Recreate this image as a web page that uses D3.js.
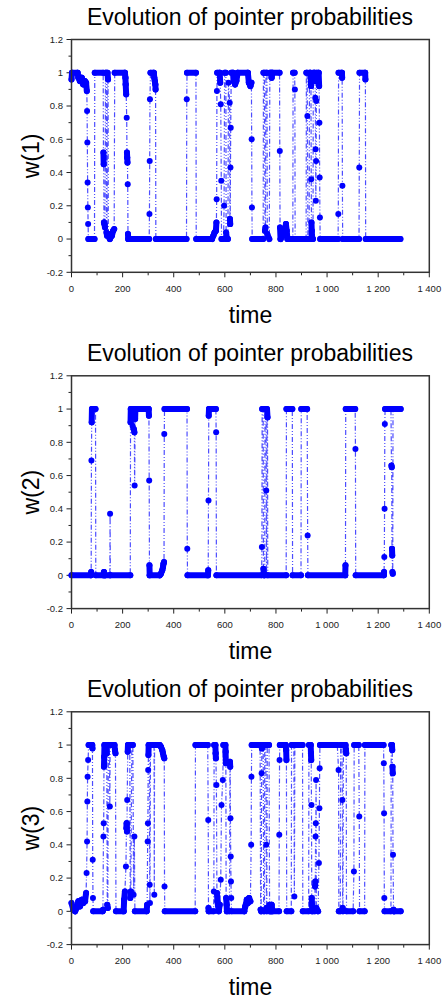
<!DOCTYPE html>
<html>
<head>
<meta charset="utf-8">
<style>
body { margin: 0; background: #fff; }
text { font-family: "Liberation Sans", Arial, sans-serif; }
.tick-label { font-size: 9.5px; fill: #222; }
.title, .xlabel, .ylabel { font-size: 23px; fill: #000; }
.frame { fill: none; stroke: #333; stroke-width: 1.5px; }
.tick { stroke: #222; stroke-width: 1px; }
.link { fill: none; stroke: #2020ff; stroke-opacity: 0.8; stroke-width: 1.2px; stroke-dasharray: 5,2,1,2,1,2; }
.run { stroke: #0000ff; stroke-width: 6px; stroke-linecap: round; }
.dot { fill: #0000ff; }
</style>
</head>
<body>
<svg width="442" height="1001"></svg>
<script src="https://d3js.org/d3.v7.min.js"></script>
<script>
// time, w
var w1 = [[0,0.96],[2,1],[24,1],[27,0.97],[33,0.95],[40,0.97],[46,0.93],[52,0.95],[57,0.94],[60,0.89],[61,0.77],[62,0.58],[63,0.34],[64,0.19],[65,0.09],[66,0],[90,0],[91,1],[124,1],[125,0.52],[126,0.45],[127,0.1],[129,0.09],[131,0.07],[133,1],[136,1],[137,0.04],[139,0.02],[141,1],[143,0.96],[144,0.03],[150,0],[158,0.02],[163,0.05],[167,0.06],[169,1],[209,1],[211,0.97],[212,0.93],[214,0.87],[216,0.73],[217,0.52],[218,0.49],[219,0.46],[220,0.33],[221,0.03],[222,0],[304,0],[305,0.15],[306,0.47],[307,0.84],[309,1],[322,1],[324,0.97],[326,0.95],[328,0.93],[329,0.9],[330,0],[450,0],[451,0.84],[452,1],[487,1],[488,0],[550,0],[555,0.02],[560,0.04],[565,0.05],[567,0.1],[568,0.24],[569,0.89],[570,1],[580,1],[582,0.94],[584,0.81],[586,0.35],[587,0],[595,0],[597,0.2],[599,1],[604,1],[605,0.04],[608,0],[612,0],[614,0.94],[619,0.82],[620,0.12],[621,0.09],[622,0.43],[623,0.67],[625,1],[632,1],[635,0.95],[640,0.93],[645,0.95],[650,1],[690,1],[694,0.94],[700,0.92],[704,0.94],[705,0.6],[706,0.19],[707,0],[750,0],[751,1],[755,1],[757,0.05],[759,0.07],[761,1],[765,1],[766,0.03],[774,0],[776,1],[781,1],[783,0.97],[786,1],[814,1],[815,0.53],[816,0.07],[818,0],[835,0.04],[839,0.09],[842,0.05],[845,0],[866,0],[867,1],[873,1],[874,0.9],[875,0],[918,0],[919,1],[922,1],[923,0.74],[925,0],[930,0],[931,1],[935,1],[937,0.92],[938,0.36],[939,0.1],[940,0.05],[942,0],[945,0],[946,1],[951,1],[953,0.95],[954,0.85],[955,0.54],[956,0.23],[957,0.47],[958,0.83],[959,1],[967,1],[969,0.92],[970,0.7],[971,0.37],[972,0.13],[973,0],[1043,0],[1044,0.15],[1045,1],[1058,1],[1059,0.97],[1060,0.32],[1061,0],[1125,0],[1126,0.43],[1127,1],[1149,1],[1150,0.96],[1151,0],[1287,0]];

var w2 = [[0,0],[76,0],[77,0.02],[78,0.69],[79,0.92],[80,1],[94,1],[95,0],[125,0],[127,0.02],[131,0],[150,0],[151,0.37],[152,0],[230,0],[231,0.92],[232,1],[237,1],[239,0.9],[241,1],[243,1],[244,0.88],[246,0.86],[247,0.54],[249,0.94],[250,1],[302,1],[303,0.96],[304,0.57],[305,0.06],[306,0],[345,0],[350,0.01],[355,0.03],[358,0.05],[360,0.07],[362,0.08],[363,0.85],[364,1],[452,1],[453,0.16],[454,0],[534,0],[535,0.03],[536,0.45],[537,0.96],[538,1],[565,1],[566,0.86],[567,0],[744,0],[745,0.17],[746,1],[750,1],[751,0.04],[753,0],[756,0],[757,1],[761,1],[762,0.51],[763,0],[765,1],[767,0.95],[768,0],[840,0],[841,1],[864,1],[865,0],[898,0],[899,1],[922,1],[924,0.24],[925,0],[1071,0],[1072,0.06],[1073,1],[1110,1],[1111,0.76],[1112,0],[1222,0],[1223,0.02],[1224,0.11],[1225,0.4],[1226,0.91],[1227,1],[1250,1],[1252,0.66],[1253,0.65],[1254,0.16],[1255,0.12],[1256,0.02],[1257,0.01],[1258,1],[1288,1]];

var w3 = [[0,0.05],[7,0.01],[14,0],[20,0.02],[27,0.06],[33,0.03],[40,0.07],[46,0.05],[53,0.06],[57,0.11],[59,0.23],[61,0.42],[62,0.66],[63,0.81],[65,0.91],[67,1],[81,1],[82,0.98],[83,0.31],[84,0.08],[85,0],[122,0],[123,0.01],[125,0.45],[126,0.53],[127,0.87],[128,0.93],[129,1],[136,1],[138,0.95],[140,0.04],[142,0.02],[144,1],[148,1],[150,0.63],[151,1],[168,1],[170,0.97],[172,0.95],[174,0],[204,0],[206,0.07],[209,0.12],[213,0.27],[215,0.5],[216,0.53],[217,0.48],[218,0.67],[220,0.96],[221,1],[228,1],[230,0.08],[232,0.12],[236,1],[240,1],[243,0.1],[246,0.45],[248,0],[294,0],[296,0.04],[298,0.42],[299,0.53],[300,0.85],[301,0.94],[302,1],[305,1],[306,0.16],[307,0.05],[309,1],[323,1],[324,0.1],[325,1],[345,1],[350,0.99],[355,0.97],[358,0.95],[361,0.93],[363,0.92],[364,0.15],[365,0],[484,0],[485,1],[533,1],[535,0.55],[536,0.02],[537,0],[556,0],[557,0.12],[558,1],[563,1],[564,0.95],[565,0.92],[567,0.76],[569,0.11],[571,0.06],[576,0],[580,0.04],[584,0.19],[587,0.64],[592,0.79],[594,1],[602,1],[603,0.96],[604,0.89],[605,0.08],[607,0.04],[608,0],[618,0],[620,0.9],[621,0.87],[622,0.56],[623,0.33],[624,0.18],[625,0.08],[626,0],[676,0],[680,0.03],[686,0.07],[690,0.05],[695,0.08],[700,0.06],[703,0.4],[704,0.81],[705,1],[738,1],[740,0.01],[742,0],[744,0.83],[745,0.98],[746,1],[750,1],[752,0],[755,0],[756,1],[760,1],[762,0.4],[763,0.02],[764,0],[766,1],[773,1],[775,0.04],[776,0],[781,0],[783,0.04],[786,0],[812,0],[813,0.46],[814,0.91],[815,1],[838,1],[840,0.97],[841,0.91],[842,0],[860,0],[861,1],[870,1],[872,0.09],[874,1],[904,1],[905,0],[928,0],[929,1],[936,1],[937,0.95],[938,0.91],[939,0.64],[940,0.08],[941,0.04],[942,0],[952,0],[953,0.15],[954,0.18],[955,0.45],[956,0.53],[957,0.79],[958,0.02],[965,0],[968,0.29],[970,0.62],[971,0.86],[972,1],[1040,1],[1045,0.85],[1046,0],[1052,0],[1053,1],[1058,1],[1060,0.67],[1061,0.02],[1062,0],[1064,1],[1072,1],[1074,0.97],[1075,0.95],[1076,0],[1102,0],[1105,0.24],[1106,1],[1124,1],[1126,0.57],[1127,0],[1147,0],[1148,1],[1221,1],[1222,0.89],[1223,0.59],[1224,0.08],[1225,0],[1250,0],[1251,1],[1254,1],[1255,0.97],[1256,0.87],[1257,0.83],[1258,0.34],[1260,0.01],[1262,0],[1288,0]];

var series = [w1, w2, w3]
var yNames = ["w(1)", "w(2)", "w(3)"]
var titleText = "Evolution of pointer probabilities"
var xTicks = [0, 200, 400, 600, 800, 1000, 1200, 1400]
var xMinor = [100, 300, 500, 700, 900, 1100, 1300]
var yTicks = [-0.2, 0, 0.2, 0.4, 0.6, 0.8, 1, 1.2]
var yMinor = [-0.1, 0.1, 0.3, 0.5, 0.7, 0.9, 1.1]

const left = 71.5, right = 429.3
const panelTops = [39.5, 375.8, 711.8]
const ph = 232.8

const svg = d3.select('svg')
const x = d3.scaleLinear().domain([0, 1400]).range([left, right])
const fmtX = d3.formatLocale({decimal: ".", thousands: " ", grouping: [3], currency: ["", ""]}).format(",d")
const fmtY = function (d) { return String(+d.toFixed(1)) }

panelTops.forEach(function (top, i) {
    const y = d3.scaleLinear().domain([-0.2, 1.2]).range([top + ph, top])
    const g = svg.append('g')
    const data = series[i]

    g.append('text').attr('class', 'title')
        .attr('x', 250).attr('y', top - 15)
        .attr('text-anchor', 'middle').text(titleText)

    // ticks
    g.selectAll('.xt').data(xTicks).enter().append('line').attr('class', 'tick')
        .attr('x1', d => x(d)).attr('x2', d => x(d))
        .attr('y1', top + ph).attr('y2', top + ph + 5)
    g.selectAll('.xm').data(xMinor).enter().append('line').attr('class', 'tick')
        .attr('x1', d => x(d)).attr('x2', d => x(d))
        .attr('y1', top + ph).attr('y2', top + ph + 3)
    g.selectAll('.yt').data(yTicks).enter().append('line').attr('class', 'tick')
        .attr('y1', d => y(d)).attr('y2', d => y(d))
        .attr('x1', left - 5).attr('x2', left)
    g.selectAll('.ym').data(yMinor).enter().append('line').attr('class', 'tick')
        .attr('y1', d => y(d)).attr('y2', d => y(d))
        .attr('x1', left - 3).attr('x2', left)

    g.selectAll('.xl').data(xTicks).enter().append('text').attr('class', 'tick-label')
        .attr('x', d => x(d)).attr('y', top + ph + 19.5)
        .attr('text-anchor', 'middle').text(fmtX)
    g.selectAll('.yl').data(yTicks).enter().append('text').attr('class', 'tick-label')
        .attr('x', left - 8.5).attr('y', d => y(d) + 3.3)
        .attr('text-anchor', 'end').text(fmtY)

    g.append('text').attr('class', 'xlabel')
        .attr('x', 250.5).attr('y', top + ph + 50.4)
        .attr('text-anchor', 'middle').text('time')
    g.append('text').attr('class', 'ylabel')
        .attr('transform', 'translate(38.5,' + (top + ph / 2) + ') rotate(-90)')
        .attr('text-anchor', 'middle').text(yNames[i])

    // data
    const line = d3.line().x(d => x(d[0])).y(d => y(d[1]))
    g.append('path').attr('class', 'link').attr('d', line(data))

    const runs = d3.pairs(data).filter(p => Math.abs(p[0][1] - p[1][1]) < 0.08)
    g.selectAll('.run').data(runs).enter().append('line').attr('class', 'run')
        .attr('x1', d => x(d[0][0])).attr('y1', d => y(d[0][1]))
        .attr('x2', d => x(d[1][0])).attr('y2', d => y(d[1][1]))

    g.selectAll('.dot').data(data).enter().append('circle').attr('class', 'dot')
        .attr('cx', d => x(d[0])).attr('cy', d => y(d[1])).attr('r', 3)

    g.append('rect').attr('class', 'frame')
        .attr('x', left).attr('y', top).attr('width', right - left).attr('height', ph)
})
</script>
</body>
</html>
